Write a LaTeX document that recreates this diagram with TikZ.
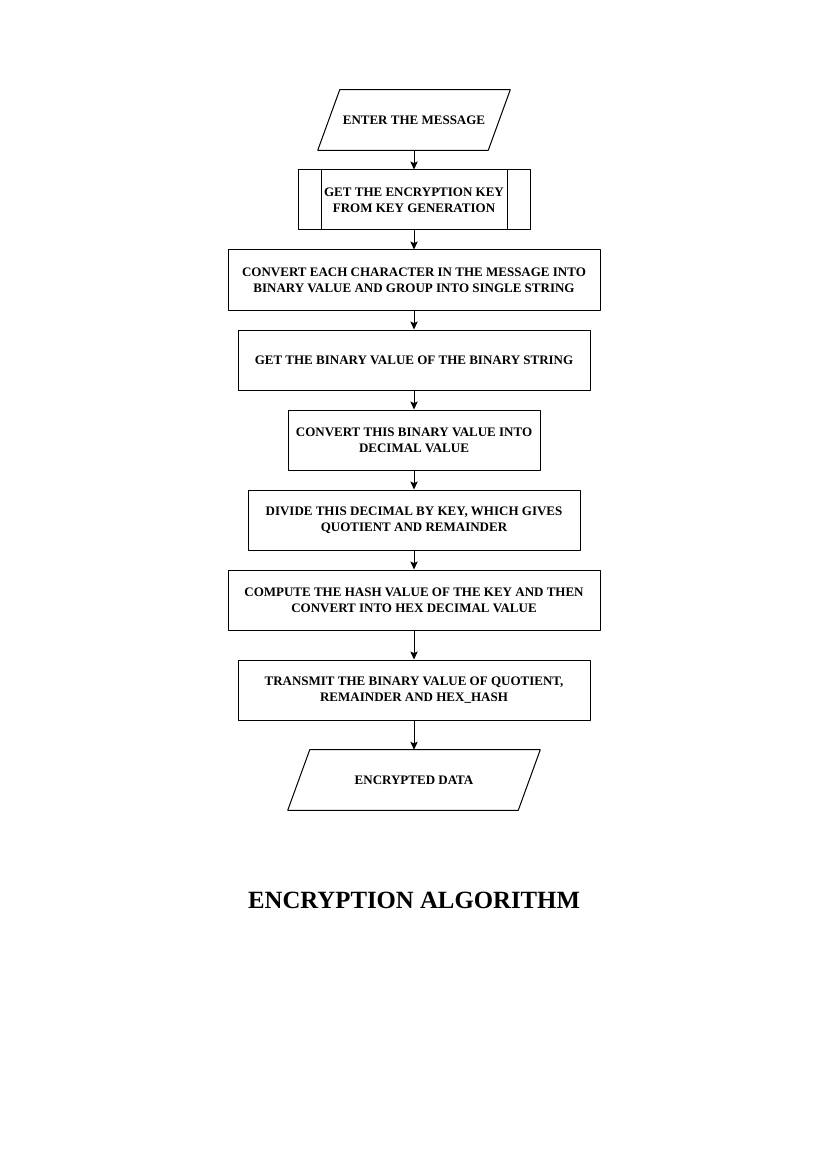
\documentclass[tikz,border=0pt]{standalone}
\usepackage{fontspec}
\setmainfont{Liberation Serif}
\usetikzlibrary{arrows.meta}
\begin{document}
\begin{tikzpicture}[x=0.75pt, y=-0.75pt, line cap=round, line join=round,
    every node/.style={font=\fontsize{9.75}{12}\selectfont\bfseries, align=center},
    procbox/.style={draw, line width=0.75pt, minimum height=45pt, inner sep=0pt},
    iobox/.style={minimum height=45pt, inner sep=0pt},
    ioline/.style={line width=0.75pt},
    subbox/.style={procbox, path picture={
      \draw[line width=0.75pt] ([xshift=17.25pt]path picture bounding box.north west) -- ([xshift=17.25pt]path picture bounding box.south west);
      \draw[line width=0.75pt] ([xshift=-17.25pt]path picture bounding box.north east) -- ([xshift=-17.25pt]path picture bounding box.south east);}},
    flow/.style={line width=0.75pt, -{Stealth[length=6pt, width=5.5pt, inset=1.2pt]}}]
  \useasboundingbox (0,0) rectangle (827,1169);
  \def\cx{414}
  \def\sl{8.25pt}
  % steps
  \node[iobox, minimum width=127.5pt] (msg) at (\cx,120) {ENTER THE MESSAGE};
  \node[subbox, minimum width=174pt] (key) at (\cx,200) {GET THE ENCRYPTION KEY\\FROM KEY GENERATION};
  \node[procbox, minimum width=279pt] (conv) at (\cx,280) {CONVERT EACH CHARACTER IN THE MESSAGE INTO\\BINARY VALUE AND GROUP INTO SINGLE STRING};
  \node[procbox, minimum width=264pt] (bin) at (\cx,360) {GET THE BINARY VALUE OF THE BINARY STRING};
  \node[procbox, minimum width=189pt] (dec) at (\cx,440) {CONVERT THIS BINARY VALUE INTO\\DECIMAL VALUE};
  \node[procbox, minimum width=249pt] (div) at (\cx,520) {DIVIDE THIS DECIMAL BY KEY, WHICH GIVES\\QUOTIENT AND REMAINDER};
  \node[procbox, minimum width=279pt] (hash) at (\cx,600) {COMPUTE THE HASH VALUE OF THE KEY AND THEN\\CONVERT INTO HEX DECIMAL VALUE};
  \node[procbox, minimum width=264pt] (send) at (\cx,690) {TRANSMIT THE BINARY VALUE OF QUOTIENT,\\REMAINDER AND HEX\_HASH};
  \node[iobox, minimum width=172.5pt] (out) at (\cx,780) {ENCRYPTED DATA};
  % input / output outlines
  \draw[ioline] ([xshift=\sl]msg.north west) -- ([xshift=\sl]msg.north east)
    -- ([xshift=-\sl]msg.south east) -- ([xshift=-\sl]msg.south west) -- cycle;
  \draw[ioline] ([xshift=\sl]out.north west) -- ([xshift=\sl]out.north east)
    -- ([xshift=-\sl]out.south east) -- ([xshift=-\sl]out.south west) -- cycle;
  % arrows
  \draw[flow] (msg) -- (key);
  \draw[flow] (key) -- (conv);
  \draw[flow] (conv) -- (bin);
  \draw[flow] (bin) -- (dec);
  \draw[flow] (dec) -- (div);
  \draw[flow] (div) -- (hash);
  \draw[flow] (hash) -- (send);
  \draw[flow] (send) -- (out);
  % caption
  \node[font=\fontsize{18.6}{22}\selectfont\bfseries] (title) at (\cx,900) {ENCRYPTION ALGORITHM};
\end{tikzpicture}
\end{document}
